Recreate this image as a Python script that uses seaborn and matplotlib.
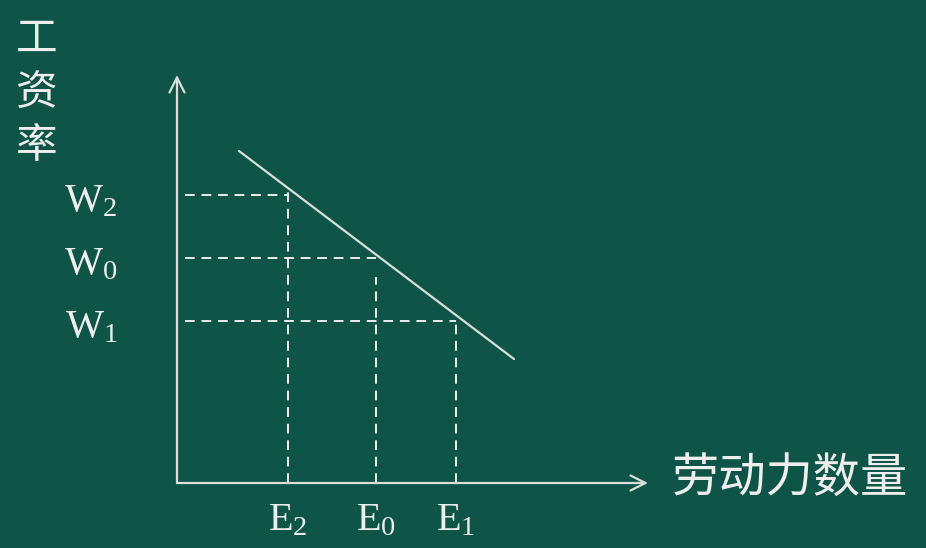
import numpy as np
import pandas as pd
from matplotlib import pyplot as plt
import seaborn as sns

# labour demand curve (quantity, wage)
demand_q = [62, 337]
demand_w = [332, 124]

# employment levels and matching wages
e_labels = [r"$\mathrm{E}_{2}$", r"$\mathrm{E}_{0}$", r"$\mathrm{E}_{1}$"]
e_values = [111, 199, 279]
e_tops = [294, 206, 162]

w_labels = [r"$\mathrm{W}_{2}$", r"$\mathrm{W}_{0}$", r"$\mathrm{W}_{1}$"]
w_values = [288, 225, 162]
w_ends = [111, 199, 279]

bg = "#0e5547"
fg = "#eeeeee"
line_c = "#d9dedb"

sns.set_theme(style="white", rc={"figure.facecolor": bg, "axes.facecolor": bg,
                                 "text.color": fg, "xtick.color": fg, "ytick.color": fg})
plt.rcParams["font.family"] = ["Noto Sans CJK SC", "DejaVu Sans"]
plt.rcParams["mathtext.fontset"] = "custom"
plt.rcParams["mathtext.rm"] = "Liberation Serif"
plt.rcParams["mathtext.it"] = "Liberation Serif"

fig = plt.figure(figsize=(9.26, 5.48), dpi=100)
ax = fig.add_axes([177 / 926, 65 / 548, 471 / 926, 408 / 548])
ax.set_xlim(0, 471)
ax.set_ylim(0, 408)
for s in ax.spines.values():
    s.set_visible(False)

df = pd.DataFrame({"q": demand_q, "w": demand_w})
sns.lineplot(data=df, x="q", y="w", ax=ax, color=line_c, lw=1.6, clip_on=False)

dash = (0, (5, 3.5))
for x, top in zip(e_values, e_tops):
    ax.plot([x, x], [0, top], color=fg, lw=1.4, ls=dash, clip_on=False)
for y, end in zip(w_values, w_ends):
    ax.plot([8, end], [y, y], color=fg, lw=1.4, ls=dash, clip_on=False)

arrow = dict(arrowstyle="->,head_length=0.9,head_width=0.45", color=line_c, lw=1.6,
             shrinkA=0, shrinkB=0)
ax.annotate("", xy=(0, 408), xytext=(0, 0), arrowprops=arrow, annotation_clip=False)
ax.annotate("", xy=(471, 0), xytext=(0, 0), arrowprops=arrow, annotation_clip=False)

ax.set_xticks(e_values)
ax.set_xticklabels(e_labels, fontsize=29)
ax.set_yticks(w_values)
ax.set_yticklabels(w_labels, fontsize=29)
ax.tick_params(axis="x", length=0, pad=11)
ax.tick_params(axis="y", length=0, pad=43)
ax.set_xlabel("")
ax.set_ylabel("")

fig.text(37 / 926, 1 - 93 / 548, "工\n资\n率", fontsize=30, color=fg, ha="center",
         va="center", linespacing=1.38, fontweight="light")
fig.text(672 / 926, 1 - 480 / 548, "劳动力数量", fontsize=34, color=fg, ha="left",
         va="center", fontweight="light")

fig.savefig("out.png", dpi=100, facecolor=bg)
